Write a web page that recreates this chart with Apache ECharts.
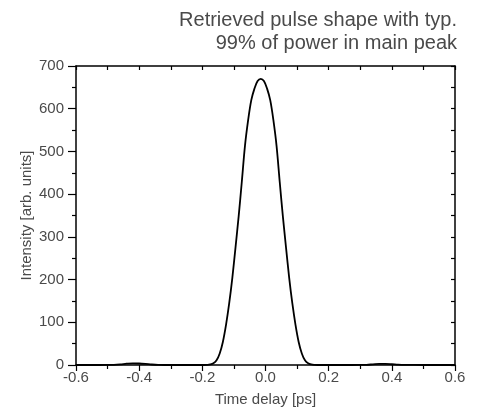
<!DOCTYPE html>
<html>
<head>
<meta charset="utf-8">
<script src="https://cdn.jsdelivr.net/npm/echarts@6/dist/echarts.min.js"></script>
<style>
html, body { margin: 0; padding: 0; background: #fff; }
#chart { width: 481px; height: 412px; }
</style>
</head>
<body>
<div id="chart"></div>
<script>
// time delay [ps]
var timeDelay = [
  -0.6, -0.55, -0.5, -0.48, -0.46, -0.44, -0.42, -0.40, -0.38, -0.36, -0.34, -0.3, -0.25, -0.215,
  -0.195, -0.185, -0.175, -0.165, -0.155, -0.145, -0.135, -0.125, -0.115, -0.105, -0.095,
  -0.085, -0.075, -0.065, -0.055, -0.045, -0.035, -0.025, -0.015, -0.005, 0.005, 0.015,
  0.025, 0.035, 0.045, 0.055, 0.065, 0.075, 0.085, 0.095, 0.105, 0.115, 0.125, 0.135,
  0.145, 0.155, 0.165, 0.175, 0.2, 0.25, 0.3, 0.32, 0.34, 0.36, 0.38, 0.40, 0.42, 0.44,
  0.5, 0.55, 0.6
];
// intensity [arb. units]
var intensity = [
  0, 0, 0.2, 0.5, 1.5, 3, 4, 3.5, 2.5, 1.2, 0.4, 0, 0, 0,
  0, 0.3, 1.3, 4, 11, 27, 54, 94, 144, 204,
  275, 348, 429, 513, 573, 620, 647, 665, 670, 665, 647, 620,
  573, 513, 429, 348, 275, 204, 144, 94, 54, 27, 11, 4,
  1.3, 0.3, 0, 0, 0, 0, 0.2, 0.5, 1.5, 2.5, 2.5, 1.8, 0.8, 0.3,
  0, 0, 0
];
var titleLines = ['Retrieved pulse shape with typ.', '99% of power in main peak'];

var pulse = timeDelay.map(function (t, i) { return [t, intensity[i]]; });

var textColor = '#4a4a4a';
var fontFam = 'Liberation Sans, Arial, sans-serif';
var axisBlack = { color: '#000', width: 1.5 };
var tickBlack = { color: '#000', width: 1.2 };

var chart = echarts.init(document.getElementById('chart'), null, {renderer: 'canvas'});
var option = {
  animation: false,
  title: titleLines.map(function (line, i) {
    return {
      text: line,
      right: 24,
      top: 10 + i * 23,
      padding: 0,
      textStyle: { color: textColor, fontSize: 20, fontWeight: 'normal', fontFamily: fontFam }
    };
  }),
  grid: { left: 76, right: 26, top: 66, bottom: 47 },
  xAxis: [
    {
      type: 'value', min: -0.6, max: 0.6, interval: 0.2, position: 'bottom',
      name: 'Time delay [ps]', nameLocation: 'middle', nameGap: 27,
      nameTextStyle: { color: textColor, fontSize: 15, fontFamily: fontFam },
      axisLine: { onZero: false, lineStyle: axisBlack },
      axisTick: { inside: false, length: 6, lineStyle: tickBlack },
      minorTick: { show: true, splitNumber: 2, length: 4, lineStyle: tickBlack },
      axisLabel: {
        color: textColor, fontSize: 15, fontFamily: fontFam, margin: 5,
        formatter: function (v) { return v.toFixed(1); }
      },
      splitLine: { show: false }
    },
    {
      type: 'value', min: -0.6, max: 0.6, interval: 0.1, position: 'top',
      axisLine: { onZero: false, lineStyle: axisBlack },
      axisTick: { inside: true, length: 4, lineStyle: tickBlack },
      axisLabel: { show: false },
      splitLine: { show: false }
    }
  ],
  yAxis: [
    {
      type: 'value', min: 0, max: 700, interval: 100, position: 'left',
      name: 'Intensity [arb. units]', nameLocation: 'middle', nameGap: 42,
      nameMoveOverlap: false,
      nameTextStyle: { color: textColor, fontSize: 15, fontFamily: fontFam },
      axisLine: { onZero: false, lineStyle: axisBlack },
      axisTick: { inside: false, length: 8, lineStyle: tickBlack },
      minorTick: { show: true, splitNumber: 2, length: 4, lineStyle: tickBlack },
      axisLabel: { color: textColor, fontSize: 15, fontFamily: fontFam, margin: 12 },
      splitLine: { show: false }
    },
    {
      type: 'value', min: 0, max: 700, interval: 50, position: 'right',
      axisLine: { onZero: false, lineStyle: axisBlack },
      axisTick: { inside: true, length: 4, lineStyle: tickBlack },
      axisLabel: { show: false },
      splitLine: { show: false }
    }
  ],
  series: [
    {
      type: 'line',
      data: pulse,
      xAxisIndex: 0,
      yAxisIndex: 0,
      smooth: 0.35,
      showSymbol: false,
      lineStyle: { color: '#000', width: 1.8 }
    }
  ]
};
chart.setOption(option);
</script>
</body>
</html>
